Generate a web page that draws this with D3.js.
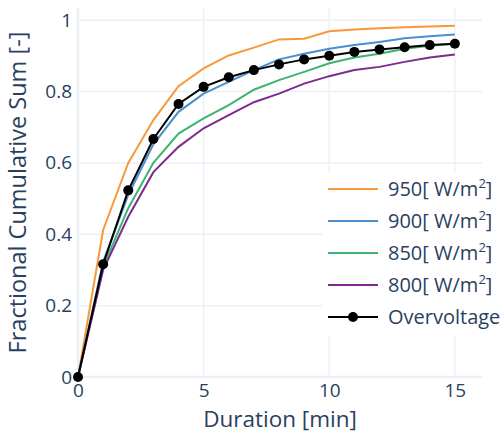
<!DOCTYPE html>
<html>
<head>
<meta charset="utf-8">
<script src="https://cdn.jsdelivr.net/npm/d3@7"></script>
<style>
  body { margin: 0; background: #fff; }
  svg { display: block; font-family: "Open Sans", sans-serif; }
</style>
</head>
<body>
<div id="chart"></div>
<script>
// ---- data ----
const minutes = [0, 1, 2, 3, 4, 5, 6, 7, 8, 9, 10, 11, 12, 13, 14, 15];
const s950 = [0, 0.412, 0.600, 0.720, 0.815, 0.865, 0.901, 0.923, 0.946, 0.948, 0.969, 0.974, 0.977, 0.980, 0.982, 0.984];
const s900 = [0, 0.323, 0.510, 0.652, 0.743, 0.794, 0.827, 0.860, 0.890, 0.906, 0.920, 0.930, 0.939, 0.949, 0.955, 0.960];
const s850 = [0, 0.309, 0.473, 0.600, 0.682, 0.725, 0.762, 0.805, 0.832, 0.855, 0.879, 0.895, 0.906, 0.920, 0.928, 0.934];
const s800 = [0, 0.300, 0.449, 0.574, 0.645, 0.697, 0.734, 0.770, 0.794, 0.822, 0.843, 0.860, 0.869, 0.883, 0.895, 0.904];
const overvoltage = [0, 0.316, 0.523, 0.667, 0.765, 0.813, 0.840, 0.860, 0.876, 0.890, 0.900, 0.911, 0.918, 0.924, 0.930, 0.934];

const seriesNames = ["950", "900", "850", "800"];
const seriesColors = ["#f7993b", "#4a8fd1", "#3cb371", "#7e2a8e"];
const seriesValues = [s950, s900, s850, s800];

const xTicks = [0, 5, 10, 15];
const yTicks = [0, 0.2, 0.4, 0.6, 0.8, 1];

// ---- layout ----
const width = 502, height = 433;
const mLeft = 78, mRight = 482, mTop = 8, mBottom = 377;
const textColor = "#2a3f5f";
const gridColor = "#ebf0f8";

const x = d3.scaleLinear().domain([0, 16.08]).range([mLeft, mRight]);
const y = d3.scaleLinear().domain([0, 1.034]).range([mBottom, mTop]);

const svg = d3.select("#chart").append("svg")
  .attr("width", width).attr("height", height);

// gridlines
const grid = svg.append("g");
grid.selectAll("line.vg").data(xTicks.filter(d => d > 0)).join("line")
  .attr("x1", d => x(d)).attr("x2", d => x(d))
  .attr("y1", mTop).attr("y2", mBottom)
  .attr("stroke", gridColor).attr("stroke-width", 1.5);
grid.selectAll("line.hg").data(yTicks.filter(d => d > 0)).join("line")
  .attr("x1", mLeft).attr("x2", mRight)
  .attr("y1", d => y(d)).attr("y2", d => y(d))
  .attr("stroke", gridColor).attr("stroke-width", 1.5);
// zero lines
svg.append("line").attr("x1", mLeft).attr("x2", mRight).attr("y1", y(0)).attr("y2", y(0))
  .attr("stroke", gridColor).attr("stroke-width", 2.5);
svg.append("line").attr("x1", x(0)).attr("x2", x(0)).attr("y1", mTop).attr("y2", mBottom)
  .attr("stroke", gridColor).attr("stroke-width", 2.5);

// axes (ticks only as labels)
const xAxis = svg.append("g").attr("transform", `translate(0,${mBottom})`)
  .call(d3.axisBottom(x).tickValues(xTicks).tickSize(0).tickPadding(6).tickFormat(d3.format("d")));
const yAxis = svg.append("g").attr("transform", `translate(${mLeft},0)`)
  .call(d3.axisLeft(y).tickValues(yTicks).tickSize(0).tickPadding(6).tickFormat(d => d === 0 ? "0" : d === 1 ? "1" : d3.format(".1f")(d)));
[xAxis, yAxis].forEach(a => {
  a.select(".domain").remove();
  a.selectAll("text").attr("fill", textColor).style("font-size", "19px").style("font-family", "'Open Sans', sans-serif");
});

// axis titles
svg.append("text").attr("x", (mLeft + mRight) / 2).attr("y", 426.5)
  .attr("text-anchor", "middle").attr("fill", textColor).style("font-size", "22.5px")
  .text("Duration [min]");
svg.append("text").attr("transform", `translate(26,${(mTop + mBottom) / 2}) rotate(-90)`)
  .attr("text-anchor", "middle").attr("fill", textColor).style("font-size", "23.5px")
  .text("Fractional Cumulative Sum [-]");

// lines
const line = d3.line().x((d, i) => x(minutes[i])).y(d => y(d));
const plot = svg.append("g");
seriesValues.forEach((vals, k) => {
  plot.append("path").datum(vals)
    .attr("d", line).attr("fill", "none")
    .attr("stroke", seriesColors[k]).attr("stroke-width", 2);
});
plot.append("path").datum(overvoltage)
  .attr("d", line).attr("fill", "none")
  .attr("stroke", "#000").attr("stroke-width", 2);
plot.selectAll("circle").data(overvoltage).join("circle")
  .attr("cx", (d, i) => x(minutes[i])).attr("cy", d => y(d))
  .attr("r", 5).attr("fill", "#000");

// legend
const legend = svg.append("g").attr("transform", "translate(322,173)");
legend.append("rect").attr("width", 182).attr("height", 164)
  .attr("fill", "#fff").attr("fill-opacity", 0.95);
const rowH = 32;
const items = seriesNames.map((n, k) => ({ name: n, color: seriesColors[k], marker: false }))
  .concat([{ name: "Overvoltage", color: "#000", marker: true }]);
const rows = legend.selectAll("g.item").data(items).join("g")
  .attr("transform", (d, i) => `translate(0,${16 + i * rowH})`);
rows.append("line").attr("x1", 6).attr("x2", 56).attr("y1", 0).attr("y2", 0)
  .attr("stroke", d => d.color).attr("stroke-width", 2);
rows.filter(d => d.marker).append("circle").attr("cx", 31).attr("cy", 0).attr("r", 5).attr("fill", "#000");
const labels = rows.append("text").attr("x", 66).attr("y", 7)
  .attr("fill", textColor).style("font-size", "20px");
labels.each(function (d) {
  const t = d3.select(this);
  if (d.marker) { t.text(d.name); return; }
  t.append("tspan").text(d.name + "[ W/m");
  t.append("tspan").attr("dy", -8).style("font-size", "13px").text("2");
  t.append("tspan").attr("dy", 8).text("]");
});
</script>
</body>
</html>
